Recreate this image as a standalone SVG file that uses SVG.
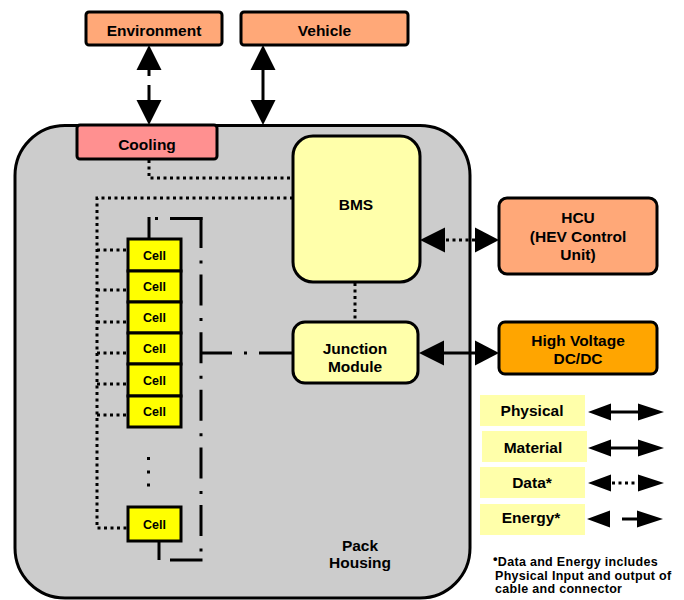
<svg xmlns="http://www.w3.org/2000/svg" width="684" height="600" viewBox="0 0 684 600">
<style>
text{font-family:"Liberation Sans",Arial,sans-serif;font-weight:bold;fill:#000;text-anchor:middle;font-size:15.5px}
.box{stroke:#000;stroke-width:3}
.ext{fill:#FFA878}
.yel{fill:#FFFFAA}
.cell{fill:#FFFF00;stroke:#000;stroke-width:3}
.cell-t{font-size:12.5px}
.leg{fill:#FFFFAA;stroke:none}
.ln{stroke:#000;stroke-width:3;fill:none}
.dot{stroke:#000;stroke-width:3;fill:none;stroke-dasharray:3 3.5}
.ah{fill:#000}
.foot{font-size:12.5px;text-anchor:start;letter-spacing:0.3px}
</style>
<rect width="684" height="600" fill="#fff"/>
<g id="pack">
<rect x="15" y="125.5" width="455" height="472.5" rx="50" ry="50" fill="#CCCCCC" stroke="#000" stroke-width="3"/>
<text x="360" y="551">Pack</text>
<text x="360" y="568">Housing</text>
</g>
<g id="cooling">
<rect class="box" x="77" y="125" width="140" height="34" rx="3" fill="#FF9090"/>
<text x="147" y="150">Cooling</text>
</g>
<g id="connectors">
<polygon class="ah" points="149,45 136.5,70 161.5,70"/>
<line class="ln" x1="149" y1="69" x2="149" y2="76"/>
<line class="ln" x1="149" y1="85" x2="149" y2="101"/>
<polygon class="ah" points="149,125 136.5,100 161.5,100"/>
<polygon class="ah" points="263,45 250.5,70 275.5,70"/>
<line class="ln" x1="263" y1="69" x2="263" y2="101"/>
<polygon class="ah" points="263,125 250.5,100 275.5,100"/>
<polygon class="ah" points="420,240 445,227.5 445,252.5"/>
<line class="dot" x1="446" y1="240" x2="475" y2="240"/>
<polygon class="ah" points="499,240 475,227.5 475,252.5"/>
<polygon class="ah" points="419,353 444,340.5 444,365.5"/>
<line class="ln" x1="443" y1="353" x2="476" y2="353"/>
<polygon class="ah" points="499,353 475,340.5 475,365.5"/>
<path class="dot" d="M149,160 V178 H293"/>
<path class="dot" d="M293,198 H97 V528 H128"/>
<path class="dot" d="M97,250 H128 M97,290 H128 M97,322 H128 M97,353 H128 M97,384 H128 M97,415 H128"/>
<path class="dot" d="M355,283 V322"/>
<line class="ln" x1="149" y1="217" x2="149" y2="239"/>
<rect x="155" y="217" width="3" height="3" fill="#000"/>
<line class="ln" x1="170" y1="218.5" x2="202.5" y2="218.5"/>
<path class="ln" d="M201,217 V561.5" stroke-dasharray="31 12.5 3 11.1"/>
<line class="ln" x1="170" y1="560" x2="202.5" y2="560"/>
<line class="ln" x1="159" y1="541" x2="159" y2="560"/>
<path class="ln" d="M201,353 H293" stroke-dasharray="31 12 3 12 60"/>
</g>
<g id="environment">
<rect class="box ext" x="86" y="12" width="136" height="33" rx="3"/>
<text x="154" y="36">Environment</text>
</g>
<g id="vehicle">
<rect class="box ext" x="241" y="12" width="167" height="33" rx="3"/>
<text x="324.5" y="36">Vehicle</text>
</g>
<g id="bms">
<rect class="box yel" x="293" y="136" width="127" height="146" rx="20"/>
<text x="356" y="210">BMS</text>
</g>
<g id="junction">
<rect class="box yel" x="293" y="322" width="125" height="61" rx="12"/>
<text x="355" y="354">Junction</text>
<text x="355" y="372">Module</text>
</g>
<g id="hcu">
<rect class="box ext" x="499" y="198" width="158" height="76" rx="8"/>
<text x="578" y="223">HCU</text>
<text x="578" y="241.5">(HEV Control</text>
<text x="578" y="260">Unit)</text>
</g>
<g id="hvdcdc">
<rect class="box" x="499" y="322" width="158" height="52" rx="6" fill="#FFA500"/>
<text x="578" y="346">High Voltage</text>
<text x="578" y="364">DC/DC</text>
</g>
<g id="cells">
<rect class="cell" x="128" y="239" width="53" height="32"/>
<rect class="cell" x="128" y="271" width="53" height="31"/>
<rect class="cell" x="128" y="302" width="53" height="31"/>
<rect class="cell" x="128" y="333" width="53" height="31"/>
<rect class="cell" x="128" y="364" width="53" height="32"/>
<rect class="cell" x="128" y="396" width="53" height="31"/>
<rect class="cell" x="128" y="507" width="53" height="34"/>
<text class="cell-t" x="154.5" y="260">Cell</text>
<text class="cell-t" x="154.5" y="291">Cell</text>
<text class="cell-t" x="154.5" y="322">Cell</text>
<text class="cell-t" x="154.5" y="353">Cell</text>
<text class="cell-t" x="154.5" y="384.5">Cell</text>
<text class="cell-t" x="154.5" y="416">Cell</text>
<text class="cell-t" x="154.5" y="529">Cell</text>
<rect x="147" y="457" width="3" height="3" fill="#000"/>
<rect x="147" y="470.5" width="3" height="3" fill="#000"/>
<rect x="147" y="483.5" width="3" height="3" fill="#000"/>
</g>
<g id="legend">
<rect class="leg" x="480" y="395" width="105" height="31"/>
<rect class="leg" x="482" y="431" width="105" height="31"/>
<rect class="leg" x="480" y="467" width="105" height="31"/>
<rect class="leg" x="480" y="504" width="105" height="31"/>
<text x="532" y="416">Physical</text>
<text x="533" y="453">Material</text>
<text x="532" y="488">Data*</text>
<text x="531" y="523">Energy*</text>
<polygon class="ah" points="588,412 611,403.5 611,420.5"/>
<line class="ln" x1="610" y1="412" x2="639" y2="412"/>
<polygon class="ah" points="664,412 638,403.5 638,420.5"/>
<polygon class="ah" points="588,448 611,439.5 611,456.5"/>
<line class="ln" x1="610" y1="448" x2="639" y2="448"/>
<polygon class="ah" points="664,448 638,439.5 638,456.5"/>
<polygon class="ah" points="588,483 611,474.5 611,491.5"/>
<line class="dot" x1="612" y1="483" x2="637" y2="483" stroke-dasharray="3 5"/>
<polygon class="ah" points="664,483 638,474.5 638,491.5"/>
<polygon class="ah" points="587,519 610,510.5 610,527.5"/>
<line class="ln" x1="622" y1="519" x2="638" y2="519"/>
<polygon class="ah" points="663,519 637,510.5 637,527.5"/>
<text class="foot" x="493" y="566"><tspan font-size="13" dy="-3">•</tspan><tspan dy="3">Data and Energy includes</tspan></text>
<text class="foot" x="495" y="579.5">Physical Input and output of</text>
<text class="foot" x="495" y="593">cable and connector</text>
</g>
</svg>
